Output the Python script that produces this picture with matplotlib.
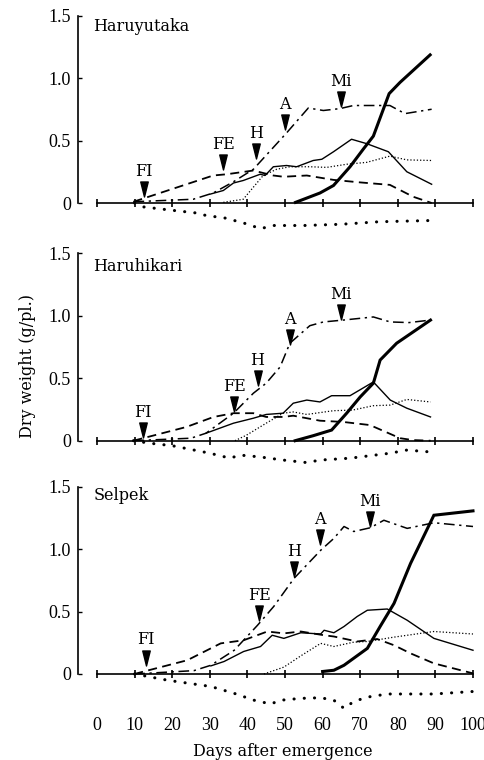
import matplotlib
matplotlib.use("Agg")
import matplotlib.pyplot as plt
from matplotlib.path import Path

# ---------------- data ----------------
titles = ["Haruyutaka", "Haruhikari", "Selpek"]
stage_names = ["FI", "FE", "H", "A", "Mi"]
xticks = [0, 10, 20, 30, 40, 50, 60, 70, 80, 90, 100]
xtick_labels = ["0", "10", "20", "30", "40", "50", "60", "70", "80", "90", "100"]
yticks = [0, 0.5, 1.0, 1.5]
ytick_labels = ["0", "0.5", "1.0", "1.5"]

# Haruyutaka
p1_dd_x = [9.7, 25.6, 30.9, 36.3, 41.6, 50.4, 56.2, 60.2, 64.6, 68.2, 77.9, 81.9, 89]
p1_dd_y = [0.01, 0.03, 0.08, 0.17, 0.27, 0.56, 0.76, 0.74, 0.755, 0.78, 0.78, 0.715, 0.75]
p1_da_x = [9.7, 30.9, 34.5, 41.6, 44.2, 46.9, 49.6, 55.8, 62.9, 69.9, 77.9, 84.1, 89]
p1_da_y = [0.01, 0.22, 0.23, 0.26, 0.24, 0.22, 0.21, 0.22, 0.185, 0.165, 0.145, 0.05, 0.0]
p1_th_x = [30, 33.6, 36.3, 38.9, 43.4, 44.7, 46.9, 50.4, 53.1, 57.5, 59.8, 62.9, 67.7, 71.7, 77.5, 82.4, 89]
p1_th_y = [0.07, 0.10, 0.16, 0.18, 0.23, 0.22, 0.29, 0.30, 0.29, 0.34, 0.35, 0.41, 0.51, 0.475, 0.41, 0.25, 0.15]
p1_dt_x = [33.6, 38.9, 44.2, 47.8, 51.3, 56.6, 61.1, 66.4, 71.7, 77.9, 82.4, 89]
p1_dt_y = [0.005, 0.03, 0.22, 0.27, 0.29, 0.29, 0.285, 0.31, 0.325, 0.375, 0.345, 0.34]
p1_tk_x = [52.8, 59.3, 62.9, 67.3, 70.8, 73.5, 77.7, 80.6, 88.6]
p1_tk_y = [0.005, 0.08, 0.14, 0.29, 0.43, 0.535, 0.875, 0.965, 1.185]
p1_ng_x = [10, 12, 19, 26.5, 29, 34, 39, 43.5, 47, 55, 65, 75, 89]
p1_ng_y = [0, -0.03, -0.055, -0.08, -0.10, -0.12, -0.16, -0.205, -0.18, -0.18, -0.17, -0.15, -0.14]
p1_stage_x = [12.5, 33.6, 42.4, 50.0, 64.9]
p1_stage_y = [0.05, 0.27, 0.36, 0.59, 0.77]

# Haruhikari
p2_dd_x = [9.7, 25, 29, 36.3, 41.6, 45, 48.7, 51.3, 56.6, 60.2, 65.5, 73.5, 78, 83, 88.7]
p2_dd_y = [0, 0.02, 0.06, 0.22, 0.38, 0.46, 0.59, 0.78, 0.92, 0.95, 0.965, 0.99, 0.95, 0.945, 0.965]
p2_da_x = [9.7, 23.8, 31, 36.3, 41.6, 45, 49.5, 52.2, 59.3, 65.5, 72.6, 80.6, 84, 88.7]
p2_da_y = [0, 0.11, 0.19, 0.22, 0.22, 0.19, 0.19, 0.20, 0.16, 0.15, 0.125, 0.02, 0.005, 0]
p2_th_x = [29, 36.3, 41.6, 45, 49.5, 52.2, 55.8, 59.3, 62.4, 67.3, 73.5, 78, 82.4, 88.7]
p2_th_y = [0.06, 0.14, 0.18, 0.21, 0.22, 0.30, 0.325, 0.31, 0.36, 0.36, 0.47, 0.325, 0.26, 0.19]
p2_dt_x = [36.7, 39.8, 45, 49.5, 52.2, 55.8, 62.9, 68, 73.5, 78, 82.4, 88.7]
p2_dt_y = [0, 0.045, 0.14, 0.22, 0.23, 0.21, 0.24, 0.245, 0.28, 0.285, 0.33, 0.31]
p2_tk_x = [52.7, 57.5, 62.4, 66.4, 70, 73.5, 75.3, 79.7, 88.7]
p2_tk_y = [0, 0.04, 0.085, 0.22, 0.35, 0.46, 0.645, 0.78, 0.965]
p2_ng_x = [9.7, 14, 20, 30, 35.4, 38, 43.4, 49.5, 55.8, 59.3, 67.3, 78, 82.4, 88.7]
p2_ng_y = [0, -0.02, -0.04, -0.10, -0.14, -0.115, -0.13, -0.155, -0.175, -0.155, -0.14, -0.10, -0.075, -0.09]
p2_stage_x = [12.3, 36.5, 42.7, 51.3, 65.0]
p2_stage_y = [0.027, 0.23, 0.44, 0.77, 0.97]

# Selpek
p3_dd_x = [9.9, 25.8, 30.3, 36.5, 42.7, 47, 52.4, 59.5, 63, 65.7, 68.3, 72.7, 76.3, 82.5, 89.6, 100]
p3_dd_y = [0, 0.027, 0.07, 0.19, 0.39, 0.54, 0.765, 0.99, 1.085, 1.18, 1.14, 1.17, 1.23, 1.165, 1.21, 1.18]
p3_da_x = [9.9, 24, 32.9, 39, 45.3, 49.7, 54.2, 60.4, 63, 69.2, 74.5, 79, 83.4, 89.6, 100]
p3_da_y = [0, 0.11, 0.245, 0.27, 0.34, 0.325, 0.34, 0.31, 0.30, 0.26, 0.28, 0.23, 0.165, 0.085, 0.005]
p3_th_x = [30.3, 33.8, 39, 43.5, 46.6, 49.7, 54.2, 59.5, 60.4, 63, 65.7, 69.2, 71.9, 77.2, 82.5, 89.6, 100]
p3_th_y = [0.065, 0.10, 0.18, 0.22, 0.31, 0.285, 0.33, 0.32, 0.35, 0.33, 0.38, 0.46, 0.51, 0.52, 0.43, 0.285, 0.19]
p3_dt_x = [44.4, 49.7, 54.2, 59.5, 63, 68.3, 71.9, 79, 89.6, 100]
p3_dt_y = [0, 0.055, 0.145, 0.245, 0.22, 0.255, 0.26, 0.295, 0.34, 0.32]
p3_tk_x = [60, 63, 65.7, 71.9, 75.4, 79, 83.4, 89.6, 100]
p3_tk_y = [0.02, 0.03, 0.07, 0.205, 0.385, 0.565, 0.885, 1.27, 1.305]
p3_ng_x = [10, 18.8, 30.3, 36.5, 41.8, 46.2, 48.8, 54.2, 59.5, 63, 65.7, 68.3, 71.9, 77.2, 89.6, 100]
p3_ng_y = [0, -0.05, -0.10, -0.155, -0.21, -0.24, -0.21, -0.195, -0.19, -0.21, -0.275, -0.22, -0.185, -0.16, -0.16, -0.14]
p3_stage_x = [13.0, 43.1, 52.4, 59.3, 72.7]
p3_stage_y = [0.072, 0.43, 0.78, 1.04, 1.18]

panels = [
    (p1_dd_x, p1_dd_y, p1_da_x, p1_da_y, p1_th_x, p1_th_y, p1_dt_x, p1_dt_y,
     p1_tk_x, p1_tk_y, p1_ng_x, p1_ng_y, p1_stage_x, p1_stage_y),
    (p2_dd_x, p2_dd_y, p2_da_x, p2_da_y, p2_th_x, p2_th_y, p2_dt_x, p2_dt_y,
     p2_tk_x, p2_tk_y, p2_ng_x, p2_ng_y, p2_stage_x, p2_stage_y),
    (p3_dd_x, p3_dd_y, p3_da_x, p3_da_y, p3_th_x, p3_th_y, p3_dt_x, p3_dt_y,
     p3_tk_x, p3_tk_y, p3_ng_x, p3_ng_y, p3_stage_x, p3_stage_y),
]
title_y = [1.41, 1.39, 1.43]

# ---------------- style ----------------
num_font = "Liberation Serif"
txt_font = "DejaVu Serif"
tri = Path([(-0.5, 1.0), (0.5, 1.0), (0.0, -1.0), (-0.5, 1.0)],
           [Path.MOVETO, Path.LINETO, Path.LINETO, Path.CLOSEPOLY])

fig = plt.figure(figsize=(4.85, 7.6), dpi=100)
W, H = 485.0, 760.0
ax_left = 78 / W
ax_width = 398 / W
ax_h = 231.25 / H
bottoms_px = [240.5, 478.2, 711.5]

for i, data in enumerate(panels):
    (dd_x, dd_y, da_x, da_y, th_x, th_y, dt_x, dt_y,
     tk_x, tk_y, ng_x, ng_y, st_x, st_y) = data
    ax = fig.add_axes([ax_left, 1 - bottoms_px[i] / H, ax_width, ax_h])
    ax.set_xlim(-5.05, 100.8)
    ax.set_ylim(-0.3, 1.55)

    ax.plot(dd_x, dd_y, color="black", lw=1.1, linestyle=(0, (7, 3, 1.5, 3)))
    ax.plot(da_x, da_y, color="black", lw=1.3, linestyle=(0, (5, 3)))
    ax.plot(th_x, th_y, color="black", lw=1.0)
    ax.plot(dt_x, dt_y, color="black", lw=0.9, linestyle=(0, (1, 1.6)))
    ax.plot(tk_x, tk_y, color="black", lw=2.2, solid_joinstyle="miter")
    ax.plot(ng_x, ng_y, color="black", lw=2.2, linestyle=(0, (0.05, 3.3)),
            dash_capstyle="round")

    # stage markers
    for name, sx, sy in zip(stage_names, st_x, st_y):
        ax.plot([sx], [sy + 0.06], marker=tri, markersize=10.8,
                color="black", linestyle="none")
        ax.text(sx, sy + 0.2, name, ha="center", va="center",
                fontsize=11.5, family=txt_font)

    ax.text(-1.0, title_y[i], titles[i], ha="left", va="center",
            fontsize=11.5, family=txt_font)

    # axes styling
    for s in ["top", "right"]:
        ax.spines[s].set_visible(False)
    ax.spines["left"].set_bounds(0, 1.5)
    ax.spines["left"].set_linewidth(1.2)
    ax.spines["bottom"].set_position(("data", 0))
    ax.spines["bottom"].set_bounds(0, 100)
    ax.spines["bottom"].set_linewidth(1.2)

    ax.set_yticks(yticks)
    ax.set_yticklabels(ytick_labels, family=num_font, fontsize=13)
    ax.tick_params(axis="y", direction="in", length=3, width=1, pad=5)

    ax.set_xticks(xticks)
    if i == 2:
        ax.set_xticklabels(xtick_labels, family=num_font, fontsize=13)
    else:
        ax.set_xticklabels([])
    ax.tick_params(axis="x", direction="inout", length=6, width=1.2, pad=28)
    ax.patch.set_alpha(0)

fig.text(28 / W, 1 - 366 / H, "Dry weight (g/pl.)", rotation=90,
         ha="center", va="center", fontsize=11.5, family=txt_font)
fig.text(282.5 / W, 1 - 752 / H, "Days after emergence",
         ha="center", va="center", fontsize=11.5, family=txt_font)

fig.savefig("out.png", dpi=100)
